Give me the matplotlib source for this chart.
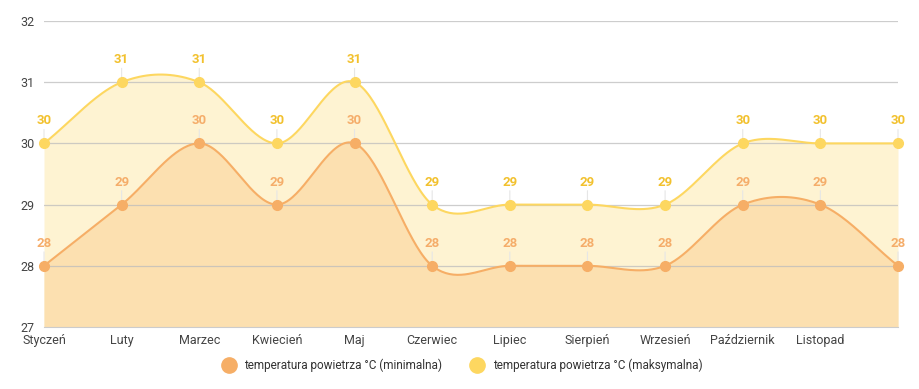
import numpy as np
import matplotlib.pyplot as plt
from matplotlib.lines import Line2D

plt.rcParams['font.family'] = ['Roboto', 'DejaVu Sans']

miesiace = ['Styczeń', 'Luty', 'Marzec', 'Kwiecień', 'Maj', 'Czerwiec', 'Lipiec',
            'Sierpień', 'Wrzesień', 'Październik', 'Listopad', '']
t_min = [28, 29, 30, 29, 30, 28, 28, 28, 28, 29, 29, 28]
t_max = [30, 31, 31, 30, 31, 29, 29, 29, 29, 30, 30, 30]
nazwy = ['temperatura powietrza °C (minimalna)', 'temperatura powietrza °C (maksymalna)']


def spline(y, n=40):
    # catmull-rom, koncowe styczne = roznica sasiadow
    y = np.asarray(y, float)
    m = np.zeros_like(y)
    m[1:-1] = (y[2:] - y[:-2]) / 2
    m[0] = y[1] - y[0]
    m[-1] = y[-1] - y[-2]
    xs, ys = [], []
    for i in range(len(y) - 1):
        t = np.linspace(0, 1, n, endpoint=False)
        h00 = 2*t**3 - 3*t**2 + 1
        h10 = t**3 - 2*t**2 + t
        h01 = -2*t**3 + 3*t**2
        h11 = t**3 - t**2
        xs.append(i + t)
        ys.append(h00*y[i] + h10*m[i] + h01*y[i+1] + h11*m[i+1])
    xs.append([len(y) - 1])
    ys.append([y[-1]])
    return np.concatenate(xs), np.concatenate(ys)


fig = plt.figure(figsize=(9.19, 3.89), dpi=100)
ax = fig.add_axes([44/919, 62/389, 854/919, 306/389])

x = np.arange(len(miesiace))
kol_line = ['#F6AE66', '#FDD760']
kol_fill = ['#FCE0B0', '#FEF3D2']
kol_lab = ['#F5AD6A', '#F2C12E']

sx, sy_max = spline(t_max)
_, sy_min = spline(t_min)
ax.fill_between(sx, 27, sy_max, color=kol_fill[1], lw=0, zorder=1)
ax.fill_between(sx, 27, sy_min, color=kol_fill[0], lw=0, zorder=2)
for yv in [28, 29, 30, 31, 32]:
    ax.axhline(yv, color='#bdbdbd', lw=0.9, alpha=0.75, zorder=3)
ax.plot(sx, sy_max, color=kol_line[1], lw=1.5, zorder=4)
ax.plot(sx, sy_min, color=kol_line[0], lw=1.5, zorder=4)
ax.plot(x, t_max, 'o', color=kol_line[1], ms=7, zorder=5, clip_on=False)
ax.plot(x, t_min, 'o', color=kol_line[0], ms=7, zorder=5, clip_on=False)

for dane, kl in [(t_max, kol_lab[1]), (t_min, kol_lab[0])]:
    for xi, yi in zip(x, dane):
        ax.annotate('', xy=(xi, yi), xytext=(0, 10), textcoords='offset points',
                    arrowprops=dict(arrowstyle='-', color='#e6e6e6', lw=0.8,
                                    shrinkA=0, shrinkB=0), zorder=3.5)
        ax.annotate(str(yi), xy=(xi, yi), xytext=(0, 11.5), textcoords='offset points',
                    ha='center', va='bottom', fontsize=9.5, fontweight='bold',
                    color=kl, zorder=6, annotation_clip=False)

ax.set_xlim(0, 11)
ax.set_ylim(27, 32)
ax.set_yticks([27, 28, 29, 30, 31, 32])
ax.set_xticks(x)
ax.set_xticklabels(miesiace)
ax.tick_params(axis='both', length=0, labelsize=9, colors='#444444')
ax.tick_params(axis='x', pad=5)
ax.tick_params(axis='y', pad=7)
for s in ['top', 'right', 'left']:
    ax.spines[s].set_visible(False)
ax.spines['bottom'].set_color('#cccccc')
ax.spines['bottom'].set_zorder(6)

uchwyty = [Line2D([], [], marker='o', ls='', color=kol_line[0], ms=11),
           Line2D([], [], marker='o', ls='', color=kol_line[1], ms=11)]
fig.legend(uchwyty, nazwy, loc='center', bbox_to_anchor=(0.5, 24/389), ncol=2,
           frameon=False, fontsize=8.5, handletextpad=0.3, columnspacing=2.0,
           labelcolor='#333333')

fig.savefig('out.png', dpi=100)
